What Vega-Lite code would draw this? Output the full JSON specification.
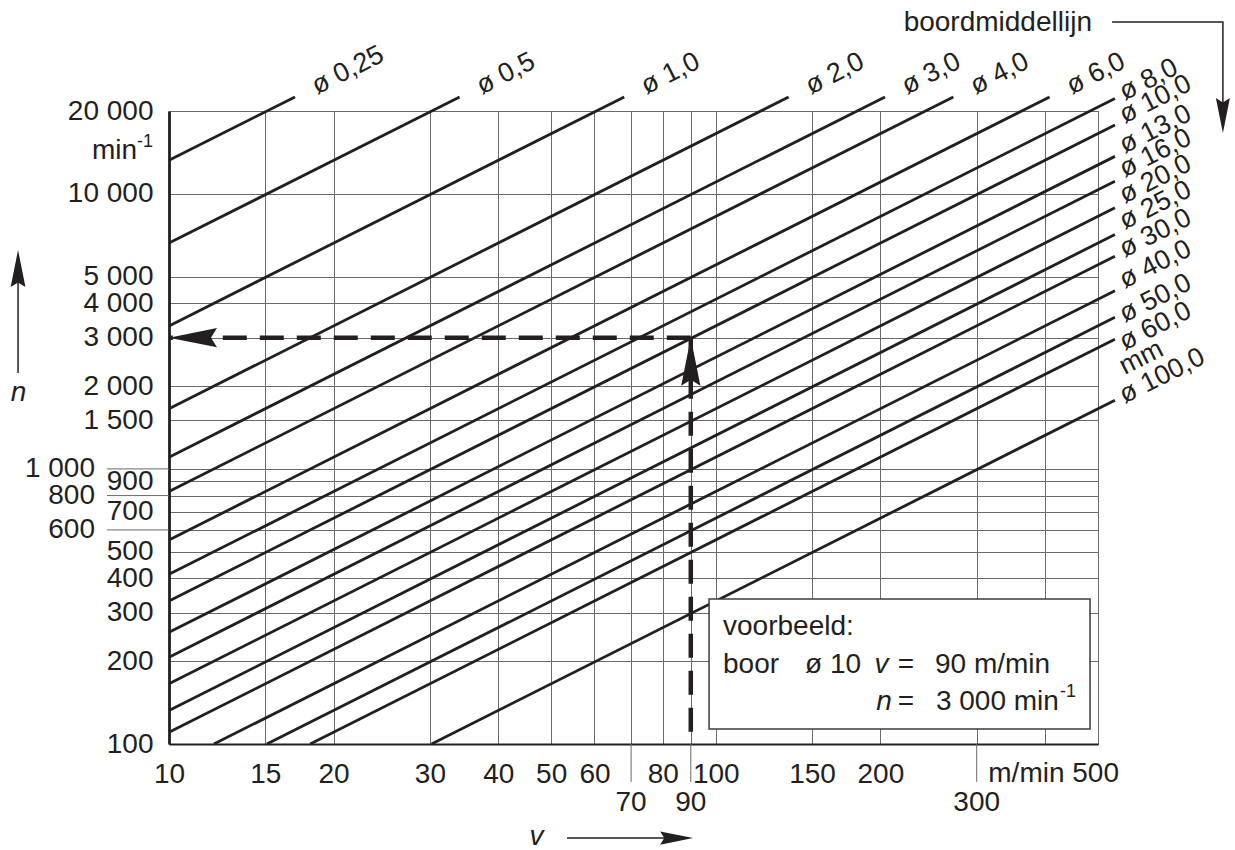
{
  "$schema": "https://vega.github.io/schema/vega-lite/v6.json",
  "autosize": {"type": "none"},
  "padding": {"left": 169, "top": 111, "right": 137, "bottom": 106},
  "width": 929,
  "height": 633,
  "background": "white",
  "config": {
    "view": {"stroke": "#707070", "strokeWidth": 1},
    "font": "Liberation Sans",
    "text": {"font": "Liberation Sans", "color": "#231f20", "fontSize": 28}
  },
  "datasets": {
    "lines": [
      {"d": "0.25", "v": 10, "n": 13240}, {"d": "0.25", "v": 17.0, "n": 22500},
      {"d": "0.5", "v": 10, "n": 6621}, {"d": "0.5", "v": 34.0, "n": 22500},
      {"d": "1", "v": 10, "n": 3310}, {"d": "1", "v": 68.0, "n": 22500},
      {"d": "2", "v": 10, "n": 1655}, {"d": "2", "v": 135.9, "n": 22500},
      {"d": "3", "v": 10, "n": 1103}, {"d": "3", "v": 203.9, "n": 22500},
      {"d": "4", "v": 10, "n": 827.6}, {"d": "4", "v": 271.9, "n": 22500},
      {"d": "6", "v": 10, "n": 551.7}, {"d": "6", "v": 407.8, "n": 22500},
      {"d": "8", "v": 10, "n": 413.8}, {"d": "8", "v": 537, "n": 22220},
      {"d": "10", "v": 10, "n": 331.0}, {"d": "10", "v": 537, "n": 17780},
      {"d": "13", "v": 10, "n": 254.6}, {"d": "13", "v": 537, "n": 13680},
      {"d": "16", "v": 10, "n": 206.9}, {"d": "16", "v": 537, "n": 11110},
      {"d": "20", "v": 10, "n": 165.5}, {"d": "20", "v": 537, "n": 8890},
      {"d": "25", "v": 10, "n": 132.4}, {"d": "25", "v": 537, "n": 7110},
      {"d": "30", "v": 10, "n": 110.3}, {"d": "30", "v": 537, "n": 5930},
      {"d": "40", "v": 12.08, "n": 100}, {"d": "40", "v": 537, "n": 4445},
      {"d": "50", "v": 15.10, "n": 100}, {"d": "50", "v": 537, "n": 3555},
      {"d": "60", "v": 18.12, "n": 100}, {"d": "60", "v": 537, "n": 2963},
      {"d": "100", "v": 30.21, "n": 100}, {"d": "100", "v": 537, "n": 1778}
    ],
    "toplabels": [
      {"label": "ø 0,25", "v": 17.0, "n": 22500},
      {"label": "ø 0,5", "v": 34.0, "n": 22500},
      {"label": "ø 1,0", "v": 68.0, "n": 22500},
      {"label": "ø 2,0", "v": 135.9, "n": 22500},
      {"label": "ø 3,0", "v": 203.9, "n": 22500},
      {"label": "ø 4,0", "v": 271.9, "n": 22500},
      {"label": "ø 6,0", "v": 407.8, "n": 22500}
    ],
    "rightlabels": [
      {"label": "ø 8,0", "v": 537, "n": 22530},
      {"label": "ø 10,0", "v": 537, "n": 18590},
      {"label": "ø 13,0", "v": 537, "n": 14460},
      {"label": "ø 16,0", "v": 537, "n": 11830},
      {"label": "ø 20,0", "v": 537, "n": 9515},
      {"label": "ø 25,0", "v": 537, "n": 7655},
      {"label": "ø 30,0", "v": 537, "n": 6055},
      {"label": "ø 40,0", "v": 537, "n": 4670},
      {"label": "ø 50,0", "v": 537, "n": 3514},
      {"label": "ø 60,0", "v": 537, "n": 2780},
      {"label": "mm", "v": 537, "n": 2270},
      {"label": "ø 100,0", "v": 537, "n": 1784}
    ],
    "ylong": [
      {"n": 1000, "label": "1 000"},
      {"n": 800, "label": "800"},
      {"n": 600, "label": "600"}
    ],
    "xlong": [
      {"v": 70, "label": "70"},
      {"v": 90, "label": "90"},
      {"v": 300, "label": "300"}
    ],
    "dash": [
      {"seg": "h", "o": 0, "v": 90, "n": 3000},
      {"seg": "h", "o": 1, "v": 10, "n": 3000},
      {"seg": "v", "o": 0, "v": 90, "n": 3000},
      {"seg": "v", "o": 1, "v": 90, "n": 100}
    ],
    "box": [{"v": 97.2, "v2": 483.5, "n": 336.5, "n2": 113.4}],
    "boxtext": [
      {"text": "voorbeeld:", "v": 103.1, "n": 249},
      {"text": "boor", "v": 103.1, "n": 181.2},
      {"text": "ø 10", "v": 145.6, "n": 181.2},
      {"text": "90 m/min", "v": 251.7, "n": 181.2},
      {"text": "3 000 min", "v": 252.7, "n": 132.9}
    ],
    "boxeq": [
      {"text": "=", "v": 222.7, "n": 181.2},
      {"text": "=", "v": 222.7, "n": 132.9}
    ],
    "boxital": [
      {"text": "v", "v": 200.9, "n": 181.2},
      {"text": "n", "v": 203, "n": 132.9}
    ],
    "arrowlines": [
      {"id": "n", "o": 0, "v": 5.296, "n": 2232},
      {"id": "n", "o": 1, "v": 5.296, "n": 6000},
      {"id": "v", "o": 0, "v": 53.45, "n": 45.5},
      {"id": "v", "o": 1, "v": 88, "n": 45.5},
      {"id": "b", "o": 0, "v": 530.5, "n": 42120},
      {"id": "b", "o": 1, "v": 846, "n": 42120},
      {"id": "b", "o": 2, "v": 846, "n": 17500}
    ]
  },
  "layer": [
    {
      "data": {"name": "lines"},
      "mark": {"type": "line", "stroke": "#231f20", "strokeWidth": 2.8, "clip": false},
      "encoding": {
        "x": {
          "field": "v", "type": "quantitative",
          "scale": {"type": "log", "domain": [10, 500], "nice": false},
          "axis": {
            "values": [10, 15, 20, 30, 40, 50, 60, 70, 80, 90, 100, 150, 200, 300, 400, 500],
            "labelExpr": "indexof([70,90,300,400,500], datum.value) >= 0 ? '' : format(datum.value, 'd')",
            "ticks": false,
            "labelPadding": 30,
            "labelBaseline": "middle",
            "labelAlign": "center",
            "labelFont": "Liberation Sans",
            "labelFontSize": 28,
            "labelColor": "#231f20",
            "labelOverlap": false,
            "labelFlush": false,
            "grid": true,
            "gridColor": "#6a6a6a",
            "gridWidth": 1,
            "domainColor": "#231f20",
            "domainWidth": 2.2,
            "title": "v",
            "titleFont": "Liberation Sans",
            "titleFontStyle": "italic",
            "titleFontWeight": "normal",
            "titleFontSize": 28,
            "titleColor": "#231f20",
            "titleX": 367,
            "titleY": 100,
            "titleAlign": "center",
            "titleBaseline": "alphabetic"
          }
        },
        "y": {
          "field": "n", "type": "quantitative",
          "scale": {"type": "log", "domain": [100, 20000], "nice": false},
          "axis": {
            "values": [100, 200, 300, 400, 500, 600, 700, 800, 900, 1000, 1500, 2000, 3000, 4000, 5000, 10000, 20000],
            "labelExpr": "indexof([600,800,1000], datum.value) >= 0 ? '' : replace(format(datum.value, ','), ',', ' ')",
            "ticks": false,
            "labelPadding": 16,
            "labelBaseline": "middle",
            "labelAlign": "right",
            "labelFont": "Liberation Sans",
            "labelFontSize": 28,
            "labelColor": "#231f20",
            "labelOverlap": false,
            "labelFlush": false,
            "grid": true,
            "gridColor": "#6a6a6a",
            "gridWidth": 1,
            "domainColor": "#231f20",
            "domainWidth": 2.8,
            "title": "n",
            "titleFont": "Liberation Sans",
            "titleFontStyle": "italic",
            "titleFontWeight": "normal",
            "titleFontSize": 28,
            "titleColor": "#231f20",
            "titleAngle": 0,
            "titleX": -151,
            "titleY": 289,
            "titleAlign": "center",
            "titleBaseline": "alphabetic"
          }
        },
        "detail": {"field": "d"}
      }
    },
    {
      "data": {"name": "box"},
      "mark": {"type": "rect", "fill": "white", "stroke": "#3c3c3c", "strokeWidth": 1.5},
      "encoding": {
        "x": {"field": "v", "type": "quantitative"},
        "x2": {"field": "v2"},
        "y": {"field": "n", "type": "quantitative"},
        "y2": {"field": "n2"}
      }
    },
    {
      "data": {"name": "boxtext"},
      "mark": {"type": "text", "align": "left", "baseline": "alphabetic", "fontSize": 28},
      "encoding": {
        "x": {"field": "v", "type": "quantitative"},
        "y": {"field": "n", "type": "quantitative"},
        "text": {"field": "text"}
      }
    },
    {
      "data": {"name": "boxeq"},
      "mark": {"type": "text", "align": "center", "baseline": "alphabetic", "fontSize": 28},
      "encoding": {
        "x": {"field": "v", "type": "quantitative"},
        "y": {"field": "n", "type": "quantitative"},
        "text": {"field": "text"}
      }
    },
    {
      "data": {"name": "boxital"},
      "mark": {"type": "text", "align": "center", "baseline": "alphabetic", "fontSize": 28, "fontStyle": "italic"},
      "encoding": {
        "x": {"field": "v", "type": "quantitative"},
        "y": {"field": "n", "type": "quantitative"},
        "text": {"field": "text"}
      }
    },
    {
      "data": {"values": [{"text": "-1", "v": 426, "n": 148.2}]},
      "mark": {"type": "text", "align": "left", "baseline": "alphabetic", "fontSize": 18},
      "encoding": {
        "x": {"field": "v", "type": "quantitative"},
        "y": {"field": "n", "type": "quantitative"},
        "text": {"field": "text"}
      }
    },
    {
      "data": {"name": "dash"},
      "mark": {"type": "line", "stroke": "#231f20", "strokeWidth": 4.5, "strokeDash": [24, 13], "strokeCap": "butt", "clip": false},
      "encoding": {
        "x": {"field": "v", "type": "quantitative"},
        "y": {"field": "n", "type": "quantitative"},
        "detail": {"field": "seg"},
        "order": {"field": "o"}
      }
    },
    {
      "data": {"values": [{"v": 90, "n": 3000}]},
      "mark": {"type": "point", "shape": "M0,0L-0.4,2L0,1.75L0.4,2Z", "filled": true, "fill": "#231f20", "opacity": 1, "strokeWidth": 0, "size": 2304, "angle": 0},
      "encoding": {
        "x": {"field": "v", "type": "quantitative"},
        "y": {"field": "n", "type": "quantitative"}
      }
    },
    {
      "data": {"values": [{"v": 10, "n": 3000}]},
      "mark": {"type": "point", "shape": "M0,0L-0.4,2L0,1.75L0.4,2Z", "filled": true, "fill": "#231f20", "opacity": 1, "strokeWidth": 0, "size": 2304, "angle": 270},
      "encoding": {
        "x": {"field": "v", "type": "quantitative"},
        "y": {"field": "n", "type": "quantitative"}
      }
    },
    {
      "data": {"name": "toplabels"},
      "mark": {"type": "text", "align": "left", "baseline": "middle", "angle": -26.7, "dx": 21, "fontSize": 27},
      "encoding": {
        "x": {"field": "v", "type": "quantitative"},
        "y": {"field": "n", "type": "quantitative"},
        "text": {"field": "label"}
      }
    },
    {
      "data": {"name": "rightlabels"},
      "mark": {"type": "text", "align": "left", "baseline": "middle", "angle": -26.7, "dx": 7, "fontSize": 27},
      "encoding": {
        "x": {"field": "v", "type": "quantitative"},
        "y": {"field": "n", "type": "quantitative"},
        "text": {"field": "label"}
      }
    },
    {
      "data": {"name": "ylong"},
      "mark": {"type": "rule", "stroke": "#6a6a6a", "strokeWidth": 1, "clip": false},
      "encoding": {
        "x": {"datum": 7.7, "type": "quantitative"},
        "x2": {"datum": 10},
        "y": {"field": "n", "type": "quantitative"}
      }
    },
    {
      "data": {"name": "ylong"},
      "mark": {"type": "text", "align": "right", "baseline": "middle", "dx": -74, "fontSize": 28},
      "encoding": {
        "x": {"datum": 10, "type": "quantitative"},
        "y": {"field": "n", "type": "quantitative"},
        "text": {"field": "label"}
      }
    },
    {
      "data": {"name": "xlong"},
      "mark": {"type": "rule", "stroke": "#6a6a6a", "strokeWidth": 1, "clip": false},
      "encoding": {
        "x": {"field": "v", "type": "quantitative"},
        "y": {"datum": 100, "type": "quantitative"},
        "y2": {"datum": 72.8}
      }
    },
    {
      "data": {"name": "xlong"},
      "mark": {"type": "text", "align": "center", "baseline": "middle", "dy": 59, "fontSize": 28},
      "encoding": {
        "x": {"field": "v", "type": "quantitative"},
        "y": {"datum": 100, "type": "quantitative"},
        "text": {"field": "label"}
      }
    },
    {
      "data": {"values": [{"label": "m/min 500"}]},
      "mark": {"type": "text", "align": "right", "baseline": "middle", "dx": 21, "dy": 30, "fontSize": 28},
      "encoding": {
        "x": {"datum": 500, "type": "quantitative"},
        "y": {"datum": 100, "type": "quantitative"},
        "text": {"field": "label"}
      }
    },
    {
      "data": {"values": [{"label": "min"}]},
      "mark": {"type": "text", "align": "right", "baseline": "alphabetic", "dx": -32, "fontSize": 28},
      "encoding": {
        "x": {"datum": 10, "type": "quantitative"},
        "y": {"datum": 13380, "type": "quantitative"},
        "text": {"field": "label"}
      }
    },
    {
      "data": {"values": [{"label": "-1"}]},
      "mark": {"type": "text", "align": "right", "baseline": "alphabetic", "dx": -16, "fontSize": 18},
      "encoding": {
        "x": {"datum": 10, "type": "quantitative"},
        "y": {"datum": 14795, "type": "quantitative"},
        "text": {"field": "label"}
      }
    },
    {
      "data": {"values": [{"label": "boordmiddellijn", "v": 487.5, "n": 39060}]},
      "mark": {"type": "text", "align": "right", "baseline": "alphabetic", "fontSize": 28},
      "encoding": {
        "x": {"field": "v", "type": "quantitative"},
        "y": {"field": "n", "type": "quantitative"},
        "text": {"field": "label"}
      }
    },
    {
      "data": {"name": "arrowlines"},
      "mark": {"type": "line", "stroke": "#231f20", "strokeWidth": 1.5, "clip": false},
      "encoding": {
        "x": {"field": "v", "type": "quantitative"},
        "y": {"field": "n", "type": "quantitative"},
        "detail": {"field": "id"},
        "order": {"field": "o"}
      }
    },
    {
      "data": {"values": [{"v": 5.296, "n": 6248}]},
      "mark": {"type": "point", "shape": "M0,0L-0.4,2L0,1.75L0.4,2Z", "filled": true, "fill": "#231f20", "opacity": 1, "strokeWidth": 0, "size": 1369, "angle": 0},
      "encoding": {
        "x": {"field": "v", "type": "quantitative"},
        "y": {"field": "n", "type": "quantitative"}
      }
    },
    {
      "data": {"values": [{"v": 90.9, "n": 45.5}]},
      "mark": {"type": "point", "shape": "M0,0L-0.4,2L0,1.75L0.4,2Z", "filled": true, "fill": "#231f20", "opacity": 1, "strokeWidth": 0, "size": 1089, "angle": 90},
      "encoding": {
        "x": {"field": "v", "type": "quantitative"},
        "y": {"field": "n", "type": "quantitative"}
      }
    },
    {
      "data": {"values": [{"v": 846, "n": 16630}]},
      "mark": {"type": "point", "shape": "M0,0L-0.4,2L0,1.75L0.4,2Z", "filled": true, "fill": "#231f20", "opacity": 1, "strokeWidth": 0, "size": 1225, "angle": 180},
      "encoding": {
        "x": {"field": "v", "type": "quantitative"},
        "y": {"field": "n", "type": "quantitative"}
      }
    }
  ]
}
